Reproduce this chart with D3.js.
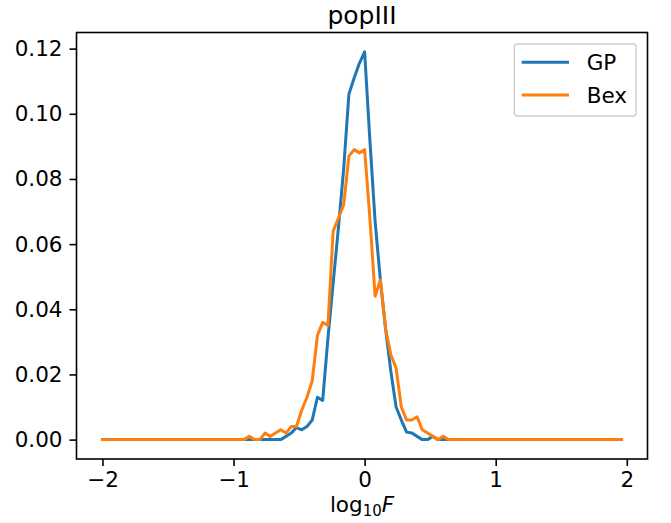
<!DOCTYPE html>
<html>
<head>
<meta charset="utf-8">
<script src="https://cdn.jsdelivr.net/npm/d3@7"></script>
<style>
  html, body { margin: 0; padding: 0; background: #fff; }
  svg { display: block; font-family: "DejaVu Sans", sans-serif; }
</style>
</head>
<body>
<svg id="chart" width="671" height="523"></svg>
<script>
/* data: bin positions of log10 F and the two curves */
const xBins = [
  -2.00,-1.96,-1.92,-1.88,-1.84,-1.80,-1.76,-1.72,-1.68,-1.64,
  -1.60,-1.56,-1.52,-1.48,-1.44,-1.40,-1.36,-1.32,-1.28,-1.24,
  -1.20,-1.16,-1.12,-1.08,-1.04,-1.00,-0.96,-0.92,-0.88,-0.84,
  -0.80,-0.76,-0.72,-0.68,-0.64,-0.60,-0.56,-0.52,-0.48,-0.44,
  -0.40,-0.36,-0.32,-0.28,-0.24,-0.20,-0.16,-0.12,-0.08,-0.04,
   0.00, 0.04, 0.08, 0.12, 0.16, 0.20, 0.24, 0.28, 0.32, 0.36,
   0.40, 0.44, 0.48, 0.52, 0.56, 0.60, 0.64, 0.68, 0.72, 0.76,
   0.80, 0.84, 0.88, 0.92, 0.96, 1.00, 1.04, 1.08, 1.12, 1.16,
   1.20, 1.24, 1.28, 1.32, 1.36, 1.40, 1.44, 1.48, 1.52, 1.56,
   1.60, 1.64, 1.68, 1.72, 1.76, 1.80, 1.84, 1.88, 1.92, 1.96
];
const gpValues = [
  0,0,0,0,0,0,0,0,0,0,
  0,0,0,0,0,0,0,0,0,0,
  0,0,0,0,0,0,0,0,0,0,
  0,0,0,0,0,0.001,0.002,0.0037,0.003,0.004,
  0.006,0.013,0.012,0.031,0.048,0.065,0.083,0.106,0.111,0.1155,
  0.119,0.092,0.067,0.049,0.034,0.021,0.010,0.006,0.0023,0.002,
  0.001,0,0,0.001,0,0,0,0,0,0,
  0,0,0,0,0,0,0,0,0,0,
  0,0,0,0,0,0,0,0,0,0,
  0,0,0,0,0,0,0,0,0,0
];
const bexValues = [
  0,0,0,0,0,0,0,0,0,0,
  0,0,0,0,0,0,0,0,0,0,
  0,0,0,0,0,0,0,0,0.001,0,
  0,0.002,0.001,0.002,0.003,0.002,0.004,0.004,0.009,0.013,
  0.018,0.032,0.036,0.035,0.064,0.068,0.072,0.087,0.089,0.088,
  0.089,0.068,0.044,0.049,0.034,0.026,0.022,0.010,0.006,0.006,
  0.007,0.003,0.002,0.001,0,0.001,0,0,0,0,
  0,0,0,0,0,0,0,0,0,0,
  0,0,0,0,0,0,0,0,0,0,
  0,0,0,0,0,0,0,0,0,0
];
const seriesNames = ['GP', 'Bex'];
const seriesColors = ['#1f77b4', '#ff7f0e'];
const xTicks = [-2, -1, 0, 1, 2];
const yTicks = [0, 0.02, 0.04, 0.06, 0.08, 0.10, 0.12];

const svg = d3.select('#chart');
const L = 76.5, R = 647.5, T = 32.5, B = 459;
const FS = 21.5;

const x = d3.scaleLinear().domain([-2.198, 2.158]).range([L, R]);
const y = d3.scaleLinear().domain([-0.00595, 0.12495]).range([B, T]);

const series = [gpValues, bexValues].map((vals, k) => ({
  name: seriesNames[k], color: seriesColors[k],
  pts: xBins.map((xv, i) => [xv, vals[i]])
}));

// 선
const line = d3.line().x(d => x(d[0])).y(d => y(d[1]));
svg.append('g').selectAll('path')
  .data(series).join('path')
  .attr('d', d => line(d.pts))
  .attr('fill', 'none')
  .attr('stroke', d => d.color)
  .attr('stroke-width', 3)
  .attr('stroke-linejoin', 'round')
  .attr('stroke-linecap', 'square');

// 축
const fmtX = v => (v < 0 ? '\u2212' + Math.abs(v) : String(v));
const xAxis = svg.append('g').attr('transform', `translate(0,${B})`)
  .call(d3.axisBottom(x).tickValues(xTicks).tickFormat(fmtX).tickSize(7).tickPadding(6));
const yAxis = svg.append('g').attr('transform', `translate(${L},0)`)
  .call(d3.axisLeft(y).tickValues(yTicks).tickFormat(d3.format('.2f')).tickSize(7).tickPadding(7));

[xAxis, yAxis].forEach(a => {
  a.select('.domain').remove();
  a.selectAll('line').attr('stroke', '#000').attr('stroke-width', 1.6);
  a.selectAll('text').attr('font-size', FS).attr('fill', '#000')
    .attr('font-family', 'DejaVu Sans, sans-serif');
});

// frame
svg.append('rect')
  .attr('x', L).attr('y', T).attr('width', R - L).attr('height', B - T)
  .attr('fill', 'none').attr('stroke', '#000').attr('stroke-width', 1.6);

// title
svg.append('text')
  .attr('x', (L + R) / 2).attr('y', 23.5)
  .attr('text-anchor', 'middle').attr('font-size', 25).attr('fill', '#000')
  .text('popIII');

// x label: log10 F
const xl = svg.append('text')
  .attr('x', (L + R) / 2).attr('y', 512)
  .attr('text-anchor', 'middle').attr('font-size', FS).attr('fill', '#000');
xl.append('tspan').text('log');
xl.append('tspan').attr('font-size', 15).attr('dy', 4).text('10');
xl.append('tspan').attr('dy', -4).attr('font-style', 'italic').text('F');

// legend
const lg = svg.append('g');
lg.append('rect')
  .attr('x', 514.3).attr('y', 44).attr('width', 121.7).attr('height', 72)
  .attr('rx', 3).attr('fill', '#fff').attr('fill-opacity', 0.8)
  .attr('stroke', '#cccccc').attr('stroke-width', 1.3);
const items = lg.selectAll('g.item').data(series).join('g')
  .attr('class', 'item')
  .attr('transform', (d, i) => `translate(0,${62.3 + i * 32.7})`);
items.append('line')
  .attr('x1', 521.7).attr('x2', 569).attr('y1', 0).attr('y2', 0)
  .attr('stroke', d => d.color).attr('stroke-width', 3);
items.append('text')
  .attr('x', 586.7).attr('y', 0).attr('dy', '0.35em')
  .attr('font-size', FS).attr('fill', '#000')
  .text(d => d.name);
</script>
</body>
</html>
